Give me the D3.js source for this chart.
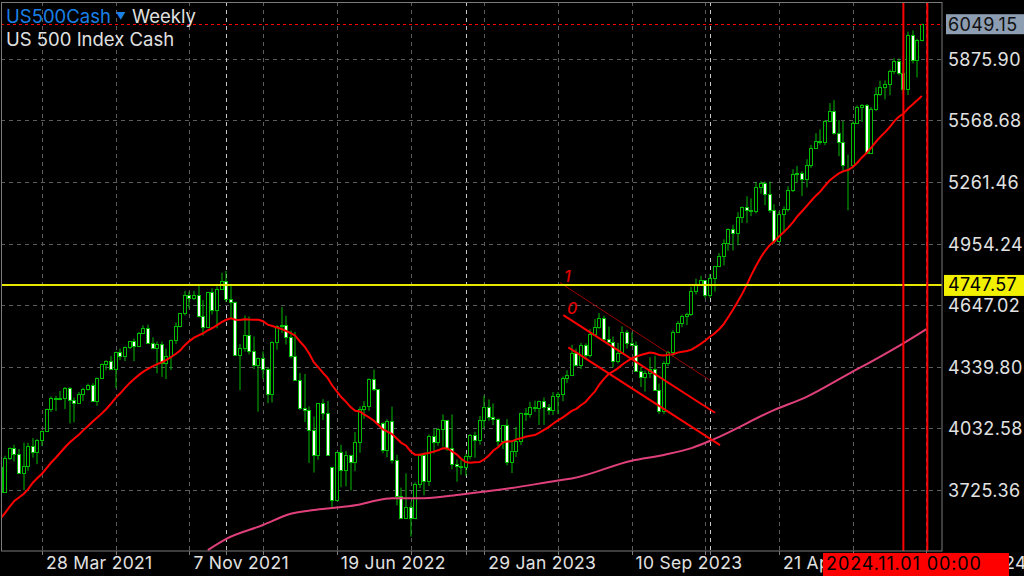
<!DOCTYPE html>
<html><head><meta charset="utf-8">
<script src="https://cdn.jsdelivr.net/npm/d3@7"></script>
<style>
html,body{margin:0;padding:0;background:#000;}
svg{display:block;}
text{font-family:Inter,"Liberation Sans",Arial,sans-serif;}
</style></head><body>
<svg id="c" width="1024" height="576"></svg>
<script>
// ---- data (weekly bars, bar 0 = week of 17 Jan 2021) ----
const priorClose = [3341,3319,3298,3348,3477,3484,3465,3270,3510,3585,3558,3638,3699,3663,3709,3703,3756,3824,3768];
const open = [
3768,3841,3714,3886,3934,3906,3811,3842,3943,3913,
3975,4020,4129,4185,4180,4181,4233,4174,4156,4204,
4230,4247,4166,4281,4352,4370,4327,4412,4395,4437,
4468,4442,4509,4535,4459,4433,4455,4357,4391,4471,
4545,4605,4697,4683,4698,4595,4538,4712,4620,4725,
4766,4677,4662,4398,4432,4500,4418,4349,4385,4329,
4204,4463,4543,4546,4488,4393,4272,4132,4123,4023,
3901,4158,4108,3838,3675,3912,3825,3899,3863,3962,
4130,4145,4280,4228,4058,3924,4067,3873,3693,3586,
3640,3583,3752,3901,3771,3993,3965,4026,4072,3934,
3852,3845,3840,3895,3999,3973,4071,4136,4090,4079,
3970,4046,3862,3917,3971,4109,4105,4138,4133,4169,
4136,4124,4192,4205,4282,4299,4410,4348,4450,4399,
4505,4536,4582,4478,4464,4370,4406,4515,4457,4450,
4320,4288,4308,4327,4224,4117,4358,4415,4514,4559,
4595,4604,4719,4754,4770,4697,4783,4840,4891,4959,
5027,5006,5089,5137,5124,5117,5234,5254,5204,5123,
4967,5100,5128,5223,5303,5305,5278,5347,5431,5465,
5460,5567,5615,5505,5459,5346,5344,5554,5634,5648,
5408,5626,5703,5738,5751,5815,5864,5808,5728,5995,
5870,5969];
const high = [
3859,3870,3895,3937,3950,3929,3960,3960,3983,3978,
4020,4130,4191,4194,4218,4238,4238,4186,4213,4234,
4255,4257,4286,4356,4372,4393,4415,4430,4440,4468,
4480,4513,4546,4549,4486,4465,4466,4430,4475,4560,
4608,4718,4714,4718,4744,4672,4713,4731,4740,4808,
4818,4749,4664,4453,4595,4590,4490,4362,4416,4335,
4466,4546,4637,4594,4520,4513,4308,4303,4141,4090,
4158,4177,4168,3840,3914,3950,3919,3900,4013,4141,
4168,4281,4325,4228,4062,4077,4140,3900,3736,3807,
3665,3762,3905,3911,4001,4029,4034,4101,4072,4101,
3877,3873,3906,4003,4015,4094,4195,4176,4156,4081,
4049,4078,3964,4039,4110,4133,4164,4170,4170,4186,
4154,4212,4213,4291,4322,4448,4430,4458,4456,4527,
4578,4607,4594,4540,4490,4458,4541,4522,4511,4466,
4338,4320,4386,4394,4255,4366,4418,4521,4567,4599,
4609,4738,4779,4793,4770,4802,4842,4907,4975,5030,
5048,5111,5140,5190,5180,5262,5265,5264,5263,5150,
5114,5139,5240,5325,5342,5315,5375,5447,5505,5524,
5570,5655,5670,5570,5566,5398,5564,5643,5651,5651,
5636,5734,5767,5768,5822,5879,5878,5863,6012,6018,
5977,6052];
const low = [
3764,3694,3714,3874,3866,3805,3723,3820,3885,3853,
3943,4020,4114,4118,4172,4128,4057,4062,4155,4168,
4220,4165,4144,4279,4321,4322,4233,4372,4368,4428,
4367,4440,4508,4459,4427,4306,4289,4278,4323,4453,
4536,4595,4630,4672,4585,4495,4532,4600,4531,4725,
4662,4582,4395,4222,4415,4401,4327,4115,4279,4157,
4161,4424,4507,4450,4381,4269,4124,4063,3859,3811,
3875,4073,3901,3637,3675,3738,3742,3722,3818,3910,
4079,4119,4218,4046,3907,3887,3856,3647,3584,3584,
3491,3583,3733,3698,3744,3906,3945,3940,3919,3827,
3765,3800,3794,3877,3885,3950,4032,4069,4048,3944,
3928,3847,3808,3889,3949,4069,4085,4114,4049,4049,
4099,4098,4103,4167,4258,4293,4341,4328,4385,4386,
4503,4528,4464,4458,4335,4356,4403,4430,4448,4316,
4238,4216,4283,4223,4104,4103,4342,4389,4510,4537,
4547,4593,4700,4751,4682,4683,4714,4840,4845,4918,
4920,4946,5057,5057,5091,5104,5203,5146,5107,4953,
4967,5011,5114,5211,5257,5191,5234,5331,5431,5448,
5445,5565,5497,5390,5310,5120,5330,5552,5561,5402,
5407,5616,5690,5674,5695,5800,5794,5702,5696,5853,
5783,5963];
const close = [
3841,3714,3886,3934,3906,3811,3842,3943,3913,3975,
4020,4129,4185,4180,4181,4233,4174,4156,4204,4230,
4247,4166,4281,4352,4370,4327,4412,4395,4437,4468,
4442,4509,4535,4459,4433,4455,4357,4391,4471,4545,
4605,4697,4683,4698,4595,4538,4712,4620,4725,4766,
4677,4662,4398,4432,4500,4418,4349,4385,4329,4204,
4463,4543,4546,4488,4393,4272,4132,4123,4023,3901,
4158,4108,3901,3675,3912,3825,3899,3863,3962,4130,
4145,4280,4228,4058,3924,4067,3873,3693,3586,3640,
3583,3752,3901,3771,3993,3965,4026,4072,3934,3852,
3845,3840,3895,3999,3973,4071,4136,4090,4079,3970,
4046,3862,3917,3971,4109,4105,4138,4133,4169,4136,
4124,4192,4205,4282,4299,4410,4348,4450,4399,4505,
4536,4582,4478,4464,4370,4406,4515,4457,4450,4320,
4288,4308,4327,4224,4117,4358,4415,4514,4559,4595,
4604,4719,4754,4770,4697,4783,4840,4891,4959,5027,
5006,5089,5137,5124,5117,5234,5254,5204,5123,4967,
5100,5128,5223,5303,5305,5278,5347,5431,5465,5460,
5567,5615,5505,5459,5346,5344,5554,5634,5648,5408,
5626,5703,5738,5751,5815,5864,5808,5728,5995,5870,
5969,6049.15];

// slow moving average: bar index / value
const slowMABars   = [46,50,58,64,69,74,79,82,86,93,101,112,122,125,138,145,151,156,169,176,185,192,197,202];
const slowMAValues = [3424,3480,3549,3605,3624,3637,3652,3669,3683,3683,3702,3734,3771,3781,3870,3899,3933,3979,4124,4189,4302,4390,4456,4527];

const priceTicks = [3725.36,4032.58,4339.80,4647.02,4954.24,5261.46,5568.68,5875.90];
const priceTickLabels = ["3725.36","4032.58","4339.80","4647.02","4954.24","5261.46","5568.68","5875.90"];
const gridBars = [10,26,42,58,74,90,106,122,138,154,170,186,202];
const timeLabelBars = [10,42,74,106,138,170,202];
const timeLabels = ["28 Mar 2021","7 Nov 2021","19 Jun 2022","29 Jan 2023","10 Sep 2023","21 Apr 2024","1 Dec 2024"];
const yearSeparatorBars = [50,102,155];
const levelPrice = 4747.57;
const levelLabel = "4747.57";
const lastPrice = 6049.15;
const lastLabel = "6049.15";
const verticalLineBars = [197,202.2];
const verticalLineLabel = "2024.11.01 00:00";
// channel lines: [bar, price] pairs
const channel1 = [[122.46,4758.6],[155.18,4269.3]];
const channel0 = [[123.18,4597.3],[156.11,4109.6]];
const channelLow = [[124.26,4436.1],[157.2,3948.3]];
const channelLabels = [{t:"1",bar:123.3,price:4762},{t:"0",bar:124.0,price:4603}];

// ---- layout ----
const W=1024,H=576, L=1, T=2, R=942, B=551;
const svg=d3.select("#c");
svg.append("rect").attr("width",W).attr("height",H).attr("fill","#000");
const x=d3.scaleLinear().domain([10,170]).range([42,779]);
const y=d3.scaleLinear().domain([3419.4,6160]).range([B,T]);

const defs=svg.append("defs");
defs.append("clipPath").attr("id","plot")
  .append("rect").attr("x",L).attr("y",T).attr("width",R-L).attr("height",B-T);
const g=svg.append("g").attr("clip-path","url(#plot)");
const px=v=>Math.round(v)+0.5;

// grid
g.selectAll(".hg").data(priceTicks).join("line")
  .attr("x1",L).attr("x2",R).attr("y1",d=>px(y(d))).attr("y2",d=>px(y(d)))
  .attr("stroke","#5c5c5c").attr("stroke-dasharray","4,4");
g.selectAll(".vg").data(gridBars).join("line")
  .attr("x1",d=>px(x(d))).attr("x2",d=>px(x(d))).attr("y1",T).attr("y2",B)
  .attr("stroke","#5c5c5c").attr("stroke-dasharray","4,4");
g.selectAll(".ys").data(yearSeparatorBars).join("line")
  .attr("x1",d=>px(x(d))).attr("x2",d=>px(x(d))).attr("y1",T).attr("y2",B)
  .attr("stroke","#c8c8c8").attr("stroke-dasharray","4,4");

// candles
const bars=d3.range(close.length).map(i=>({i,o:open[i],h:high[i],l:low[i],c:close[i]}));
const green="#00bb00";
const cg=g.append("g");
cg.selectAll(".wick").data(bars).join("line")
  .attr("x1",d=>Math.round(x(d.i))).attr("x2",d=>Math.round(x(d.i)))
  .attr("y1",d=>y(Math.max(d.h,d.o,d.c))).attr("y2",d=>y(Math.min(d.l,d.o,d.c)))
  .attr("stroke",green).attr("stroke-width",1);
cg.selectAll(".body").data(bars).join("rect")
  .attr("x",d=>Math.round(x(d.i))-1.5).attr("width",3)
  .attr("y",d=>Math.round(y(Math.max(d.o,d.c)))+0.5)
  .attr("height",d=>Math.max(0,Math.round(y(Math.min(d.o,d.c)))-Math.round(y(Math.max(d.o,d.c)))))
  .attr("fill",d=>d.c>=d.o?"#000":"#fff")
  .attr("stroke",green).attr("stroke-width",1);

// slow MA (pink)
g.append("path").datum(slowMABars.map((b,k)=>[b,slowMAValues[k]]))
  .attr("d",d3.line().x(d=>x(d[0])).y(d=>y(d[1])).curve(d3.curveMonotoneX))
  .attr("fill","none").attr("stroke","#e0407a").attr("stroke-width",2);

// fast MA (20-week simple average of closes)
const allClose=priorClose.concat(close);
const ma20=close.map((c,i)=>d3.mean(allClose.slice(i,i+20)));
g.append("path").datum(ma20)
  .attr("d",d3.line().x((d,i)=>x(i)).y(d=>y(d)))
  .attr("fill","none").attr("stroke","#ff0000").attr("stroke-width",2);

// channel lines
const seg=(pts,col,w)=>g.append("line")
  .attr("x1",x(pts[0][0])).attr("y1",y(pts[0][1])).attr("x2",x(pts[1][0])).attr("y2",y(pts[1][1]))
  .attr("stroke",col).attr("stroke-width",w);
seg(channel1,"#9a0000",1);
seg(channel0,"#ff0000",2);
seg(channelLow,"#ff0000",2);
g.selectAll(".cl").data(channelLabels).join("text")
  .attr("x",d=>x(d.bar)).attr("y",d=>y(d.price))
  .attr("fill","#e00000").attr("font-size",16).attr("font-style","italic").attr("font-weight",500).text(d=>d.t);

// horizontal level (yellow)
g.append("line").attr("x1",L).attr("x2",R).attr("y1",y(levelPrice)).attr("y2",y(levelPrice))
  .attr("stroke","#e6e600").attr("stroke-width",2);
// current price dotted
g.append("line").attr("x1",L).attr("x2",R).attr("y1",px(y(lastPrice))).attr("y2",px(y(lastPrice)))
  .attr("stroke","#ff0000").attr("stroke-dasharray","3,3").attr("stroke-width",1);
// vertical red lines
g.selectAll(".vl").data(verticalLineBars).join("line")
  .attr("x1",d=>x(d)).attr("x2",d=>x(d)).attr("y1",T).attr("y2",B)
  .attr("stroke","#ff0000").attr("stroke-width",2);

// frame
svg.append("rect").attr("x",L+0.5).attr("y",T+0.5).attr("width",R-L-0.5).attr("height",B-T-0.5)
  .attr("fill","none").attr("stroke","#7a7a7a");
// bottom ticks
svg.selectAll(".bt").data(gridBars.concat(yearSeparatorBars)).join("line")
  .attr("x1",d=>px(x(d))).attr("x2",d=>px(x(d))).attr("y1",B).attr("y2",B+4)
  .attr("stroke","#7a7a7a");

// price labels
svg.selectAll(".pl").data(priceTicks).join("text")
  .attr("x",948).attr("y",d=>y(d)+7).attr("fill","#e2e2e2")
  .attr("font-size",18).attr("letter-spacing",0.4)
  .text((d,i)=>priceTickLabels[i]);
// yellow level label
svg.append("rect").attr("x",944).attr("y",y(levelPrice)-10).attr("width",80).attr("height",21).attr("fill","#f0f000");
svg.append("text").attr("x",948).attr("y",y(levelPrice)+6.5).attr("fill","#000")
  .attr("font-size",18).attr("letter-spacing",0.4).text(levelLabel);
// last price label
svg.append("rect").attr("x",946).attr("y",y(lastPrice)-10).attr("width",78).attr("height",20).attr("fill","#8d9db2");
svg.append("text").attr("x",948).attr("y",y(lastPrice)+6.5).attr("fill","#111")
  .attr("font-size",18).attr("letter-spacing",0.4).text(lastLabel);

// time labels (last one is mostly hidden behind the red time marker, as in the original)
svg.selectAll(".tl").data(timeLabelBars).join("text")
  .attr("x",d=>x(d)+4).attr("y",569).attr("fill","#e2e2e2")
  .attr("font-size",17.5).attr("letter-spacing",0.3).text((d,i)=>timeLabels[i]);
// vertical line time label
svg.append("rect").attr("x",823).attr("y",553).attr("width",186).attr("height",23).attr("fill","#ff0000");
svg.append("text").attr("x",826).attr("y",569.5).attr("fill","#000")
  .attr("font-size",18).attr("letter-spacing",0.9).text(verticalLineLabel);

// title
const t1=svg.append("text").attr("x",6).attr("y",23).attr("font-size",18.5);
t1.append("tspan").attr("fill","#1a80e8").text("US500Cash");
t1.append("tspan").attr("fill","#1a80e8").attr("font-size",10).attr("dx",5).attr("dy",-3).text("▼");
t1.append("tspan").attr("fill","#e0e0e0").attr("dx",6).attr("dy",3).text("Weekly");
svg.append("text").attr("x",6).attr("y",46).attr("font-size",18.5).attr("fill","#e0e0e0").text("US 500 Index Cash");
</script>
</body></html>
